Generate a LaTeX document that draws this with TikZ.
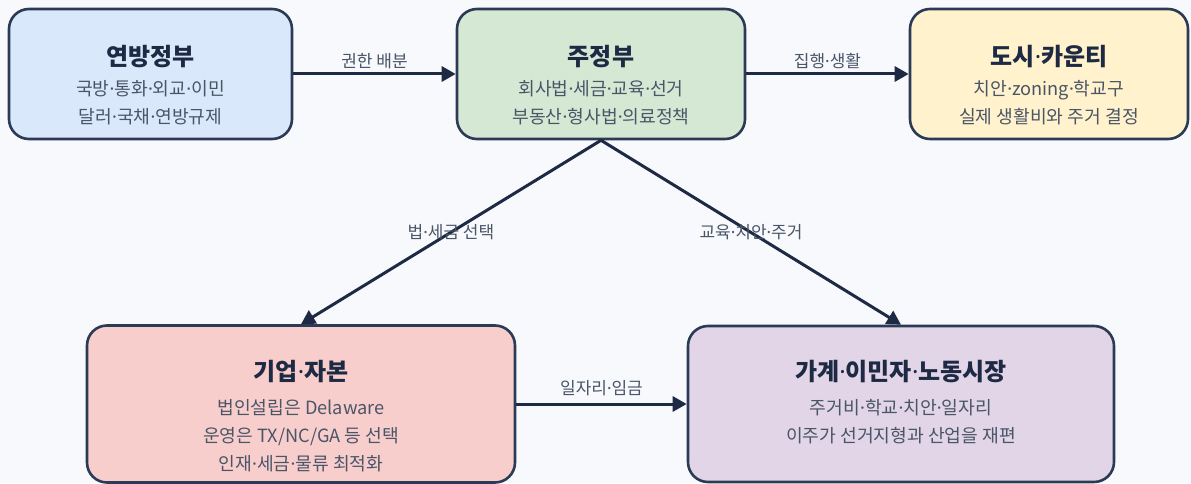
\documentclass[tikz,border=0pt]{standalone}
\usepackage{fontspec}
\setmainfont{Noto Sans CJK KR}
\newfontfamily\latinfont{Noto Sans}
\newcommand\mdot{{\latinfont ·}}
\usepackage{tikz}
\definecolor{BgGray}{HTML}{F7F9FC}
\definecolor{Ink}{HTML}{1E2A44}
\definecolor{Edge}{HTML}{2B3A55}
\definecolor{SubGray}{HTML}{4A5568}
\definecolor{FedBlue}{HTML}{DAE8FC}
\definecolor{StateGreen}{HTML}{D5E8D4}
\definecolor{CountyYellow}{HTML}{FFF2CC}
\definecolor{CorpRed}{HTML}{F8CECC}
\definecolor{HousePurple}{HTML}{E1D5E7}
\usetikzlibrary{arrows.meta,positioning,calc}

\begin{document}
\begin{tikzpicture}[
x=1pt, y=1pt,
box/.style={
	draw=Edge,
	line width=2.6pt,
	rounded corners=20pt,
	inner sep=0pt
},
title/.style={
	text=Ink,
	font=\fontsize{24}{28}\selectfont\bfseries,
	inner sep=0pt
},
note/.style={
	text=SubGray,
	font=\fontsize{18.2}{28}\selectfont,
	align=center,
	inner sep=0pt
},
flow/.style={
	draw=Ink,
	line width=3pt,
	-{Triangle[length=14pt,width=15pt]}
},
tag/.style={
	text=SubGray,
	font=\fontsize{17}{19}\selectfont,
	inner sep=1pt
},
]

\fill[BgGray] (0,0) rectangle (1191,483);
\useasboundingbox (0,0) rectangle (1191,483);

% top row
\node[box, fill=FedBlue, minimum width=283pt, minimum height=130pt] (fed) at (150.5,409) {};
\node[box, fill=StateGreen, minimum width=288pt, minimum height=130pt] (state) at (601,409) {};
\node[box, fill=CountyYellow, minimum width=278pt, minimum height=130pt] (county) at (1049,409) {};

% bottom row
\node[box, fill=CorpRed, minimum width=428pt, minimum height=157pt] (corp) at (301,79) {};
\node[box, fill=HousePurple, minimum width=426pt, minimum height=156pt] (house) at (901,79) {};

\node[title] (fedT) at (150.5,426) {연방정부};
\node[note] (fedN) at (150.5,380) {국방\mdot 통화\mdot 외교\mdot 이민\\달러\mdot 국채\mdot 연방규제};

\node[title] (stateT) at (601,426) {주정부};
\node[note] (stateN) at (601,380) {회사법\mdot 세금\mdot 교육\mdot 선거\\부동산\mdot 형사법\mdot 의료정책};

\node[title] (countyT) at (1049,426) {도시\mdot 카운티};
\node[note] (countyN) at (1049,380) {치안\mdot zoning\mdot 학교구\\실제 생활비와 주거 결정};

\node[title] (corpT) at (301,111) {기업\mdot 자본};
\node[note] (corpN) at (301,47) {법인설립은 Delaware\\운영은 TX/NC/GA 등 선택\\인재\mdot 세금\mdot 물류 최적화};

\node[title] (houseT) at (901,111) {가계\mdot 이민자\mdot 노동시장};
\node[note] (houseN) at (901,61) {주거비\mdot 학교\mdot 치안\mdot 일자리\\이주가 선거지형과 산업을 재편};

\draw[flow] (fed) to node[tag, above=3pt] {권한 배분} (state);
\draw[flow] (state) to node[tag, above=3pt] {집행\mdot 생활} (county);
\draw[flow] (state.south) to node[tag] {법\mdot 세금 선택} (corp.north);
\draw[flow] (state.south) to node[tag] {교육\mdot 치안\mdot 주거} (house.north);
\draw[flow] (corp) to node[tag, above=6pt] {일자리\mdot 임금} (house);

\end{tikzpicture}
\end{document}
